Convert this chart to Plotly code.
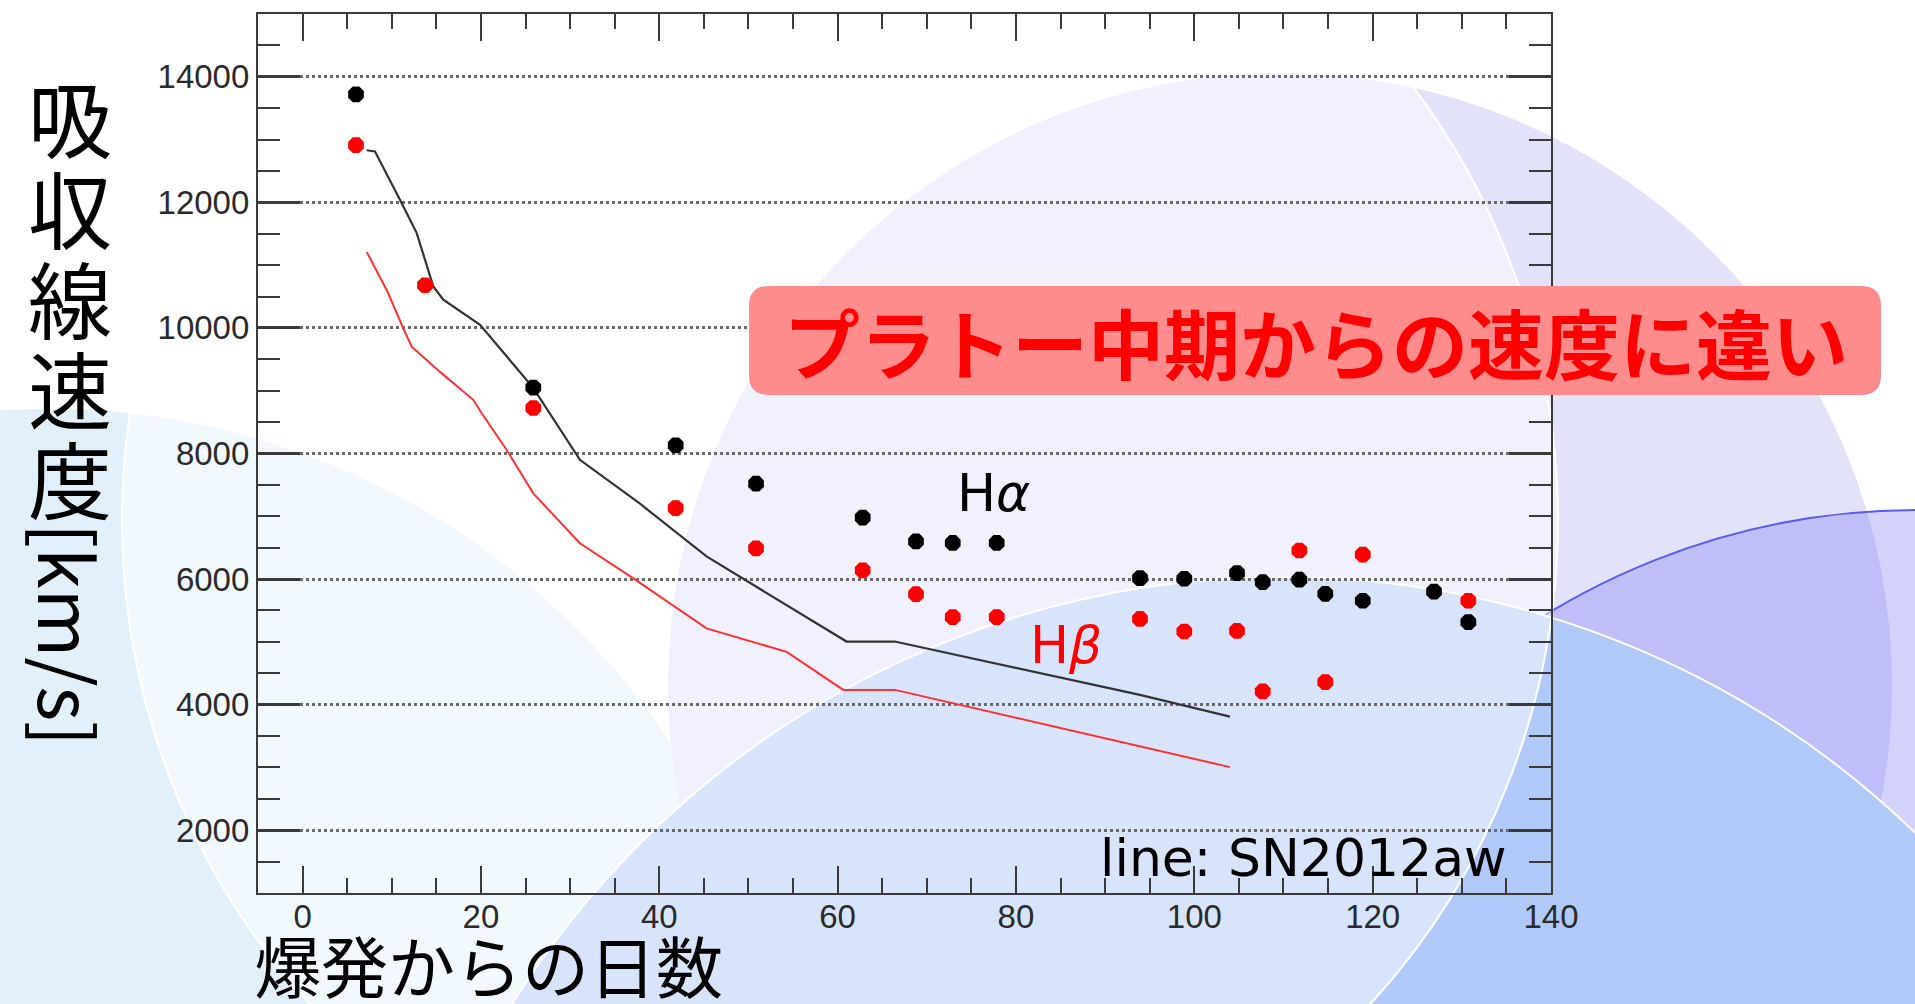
import plotly.graph_objects as go

# ---------------- data ----------------
ha_days = [5.99, 25.87, 41.84, 50.85, 62.81, 68.79, 72.91, 77.84, 93.91, 98.88,
           104.79, 107.67, 111.78, 114.69, 118.89, 126.88, 130.73]
ha_vel = [13720, 9050, 8130, 7520, 6980, 6600, 6575, 6575, 6015, 6005,
          6095, 5950, 5990, 5765, 5655, 5800, 5315]

hb_days = [5.99, 13.73, 25.87, 41.84, 50.85, 62.81, 68.79, 72.91, 77.84, 93.91,
           98.88, 104.79, 107.67, 111.78, 114.69, 118.89, 130.73]
hb_vel = [12910, 10680, 8725, 7130, 6490, 6140, 5760, 5395, 5395, 5365,
          5165, 5175, 4210, 6455, 4360, 6390, 5655]

aw_ha_days = [7.19, 8.12, 10.92, 12.8, 14.66, 15.78, 19.9, 25.84, 31.1, 37.84,
              45.3, 61.0, 66.4, 93.9, 104.0]
aw_ha_vel = [12830, 12810, 12040, 11510, 10660, 10450, 10050, 9050, 7900, 7200,
             6360, 5005, 5005, 4155, 3810]

aw_hb_days = [7.19, 9.43, 11.29, 12.24, 15.41, 19.14, 20.09, 22.89, 25.87, 31.1,
              37.09, 45.3, 54.29, 60.64, 66.44, 104.0]
aw_hb_vel = [11210, 10605, 9995, 9700, 9300, 8855, 8640, 8055, 7365, 6570,
             6010, 5215, 4840, 4235, 4235, 3005]

x_tick_vals = [0, 20, 40, 60, 80, 100, 120, 140]
x_tick_text = ["0", "20", "40", "60", "80", "100", "120", "140"]
y_tick_vals = [2000, 4000, 6000, 8000, 10000, 12000, 14000]
y_tick_text = ["2000", "4000", "6000", "8000", "10000", "12000", "14000"]

y_title_chars = ["吸", "収", "線", "速", "度"]
y_title_unit = "[km/s]"
x_title = "爆発からの日数"
callout = "プラトー中期からの速度に違い"
label_ha = "H<i>α</i>"
label_hb = "H<i>β</i>"
label_line = "line: SN2012aw"

# ---------------- layout geometry (pixels) ----------------
FIG_W, FIG_H = 1915, 1004
PL, PR, PT, PB = 258, 1551, 14, 893


def px(x):
    return (x - PL) / (PR - PL)


def py(y):
    return (PB - y) / (PB - PT)


def circle(cx, cy, r, fill, line_color=None, line_w=0):
    return dict(type="circle", xref="paper", yref="paper", layer="below",
                x0=px(cx - r), x1=px(cx + r), y0=py(cy + r), y1=py(cy - r),
                fillcolor=fill,
                line=dict(color=line_color or "rgba(0,0,0,0)", width=line_w))


def rounded_rect(x0, y0, x1, y1, r):
    pts = [
        ("M", [(x0 + r, y0)]),
        ("L", [(x1 - r, y0)]),
        ("Q", [(x1, y0), (x1, y0 + r)]),
        ("L", [(x1, y1 - r)]),
        ("Q", [(x1, y1), (x1 - r, y1)]),
        ("L", [(x0 + r, y1)]),
        ("Q", [(x0, y1), (x0, y1 - r)]),
        ("L", [(x0, y0 + r)]),
        ("Q", [(x0, y0), (x0 + r, y0)]),
    ]
    s = ""
    for cmd, ps in pts:
        s += cmd + " ".join(f"{px(a):.5f},{py(b):.5f}" for a, b in ps) + " "
    return s + "Z"


shapes = [
    circle(48, 1155, 747, "#e2f0fc", "white", 1.5),
    circle(1280, 685, 612, "#e2e2fb"),
    circle(1917, 1220, 710, "rgba(110,105,245,0.30)", "#5b5bf0", 2),
    circle(1283, 1486, 909, "#b0c9f9", "white", 2),
    circle(840, 520, 718, "rgba(255,255,255,0.5)", "white", 2),
    dict(type="path", xref="paper", yref="paper", layer="above",
         path=rounded_rect(749, 286, 1881, 395, 20),
         fillcolor="#ff8c8c", line=dict(width=0)),
]

fig = go.Figure()
fig.add_trace(go.Scatter(x=aw_ha_days, y=aw_ha_vel, mode="lines",
                         line=dict(color="#333333", width=2.2)))
fig.add_trace(go.Scatter(x=aw_hb_days, y=aw_hb_vel, mode="lines",
                         line=dict(color="#ff3030", width=2)))
fig.add_trace(go.Scatter(x=ha_days, y=ha_vel, mode="markers",
                         marker=dict(symbol="octagon", size=17, color="black",
                                     line=dict(width=0))))
fig.add_trace(go.Scatter(x=hb_days, y=hb_vel, mode="markers",
                         marker=dict(symbol="octagon", size=17, color="#ff0000",
                                     line=dict(width=0))))

annotations = []
cjk = "Noto Sans CJK JP"
for i, ch in enumerate(y_title_chars):
    annotations.append(dict(text=ch, xref="paper", yref="paper",
                            x=px(70), y=py(116 + 90 * i), xanchor="center", yanchor="middle",
                            showarrow=False, font=dict(family=cjk, size=84, color="black")))
annotations.append(dict(text=y_title_unit, xref="paper", yref="paper",
                        x=px(71), y=py(634), xanchor="center", yanchor="middle",
                        textangle=90, showarrow=False,
                        font=dict(family=cjk, size=74, color="black")))
annotations.append(dict(text=x_title, xref="paper", yref="paper",
                        x=px(488), y=py(963), xanchor="center", yanchor="middle",
                        showarrow=False, font=dict(family=cjk, size=67, color="black")))
annotations.append(dict(text=callout, xref="paper", yref="paper",
                        x=px(1316), y=py(341), xanchor="center", yanchor="middle",
                        showarrow=False,
                        font=dict(family=cjk, size=76, color="#ff0000", weight="bold")))
annotations.append(dict(text=label_ha, xref="paper", yref="paper",
                        x=px(955), y=py(493), xanchor="left", yanchor="middle",
                        showarrow=False, font=dict(family="DejaVu Sans", size=52, color="black")))
annotations.append(dict(text=label_hb, xref="paper", yref="paper",
                        x=px(1028), y=py(645), xanchor="left", yanchor="middle",
                        showarrow=False, font=dict(family="DejaVu Sans", size=52, color="#ff0000")))
annotations.append(dict(text=label_line, xref="paper", yref="paper",
                        x=px(1098), y=py(858), xanchor="left", yanchor="middle",
                        showarrow=False, font=dict(family="DejaVu Sans", size=52, color="black")))

axis_col = "#3a3a3a"
fig.update_layout(
    width=FIG_W, height=FIG_H,
    margin=dict(l=PL, r=FIG_W - PR, t=PT, b=FIG_H - PB, pad=0),
    paper_bgcolor="white", plot_bgcolor="rgba(0,0,0,0)",
    showlegend=False, shapes=shapes, annotations=annotations,
    xaxis=dict(range=[-5, 140], tickmode="array", tickvals=x_tick_vals, ticktext=x_tick_text,
               ticks="inside", ticklen=27, tickwidth=2.2, tickcolor=axis_col,
               showline=True, linecolor=axis_col, linewidth=2.2, mirror="ticks",
               showgrid=False, zeroline=False, ticklabelstandoff=-7,
               tickfont=dict(family="Liberation Sans", size=33, color="#2a2a2a"),
               minor=dict(dtick=5, tick0=0, ticks="inside", ticklen=15, tickwidth=2.2,
                          tickcolor=axis_col, showgrid=False)),
    yaxis=dict(range=[1000, 15000], tickmode="array", tickvals=y_tick_vals, ticktext=y_tick_text,
               ticks="inside", ticklen=42, tickwidth=2.6, tickcolor=axis_col,
               showline=True, linecolor=axis_col, linewidth=2.2, mirror="ticks",
               showgrid=True, gridcolor="#6a6a6a", griddash="dot", gridwidth=2.5,
               zeroline=False, ticklabelstandoff=0,
               tickfont=dict(family="Liberation Sans", size=33, color="#2a2a2a"),
               minor=dict(dtick=500, tick0=0, ticks="inside", ticklen=22, tickwidth=2.2,
                          tickcolor=axis_col, showgrid=False)),
)

fig.write_html("out.html")
